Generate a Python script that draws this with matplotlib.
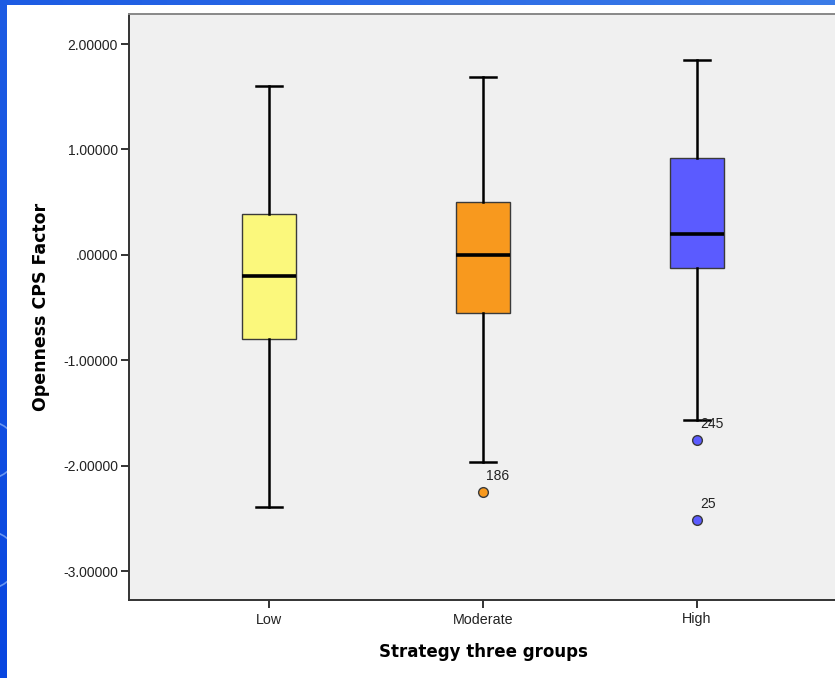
import numpy as np
import matplotlib
matplotlib.use("Agg")
import matplotlib.pyplot as plt
from matplotlib.patches import Rectangle

plt.rcParams['font.family'] = ['Liberation Sans', 'DejaVu Sans']

categories = ["Low", "Moderate", "High"]
whisker_low = [-2.391, -1.964, -1.565]
q1 = [-0.797, -0.550, -0.123]
medians = [-0.199, 0.000, 0.199]
q3 = [0.389, 0.503, 0.920]
whisker_high = [1.603, 1.689, 1.850]
outliers = [[], [-2.249], [-1.755, -2.514]]
outlier_ids = [[], ["186"], ["245", "25"]]
colors = ["#FBF87C", "#F8991E", "#5B5BFF"]
yticks = [2.0, 1.0, 0.0, -1.0, -2.0, -3.0]
ytick_labels = ["2.00000", "1.00000", ".00000", "-1.00000", "-2.00000", "-3.00000"]

W, H = 835, 678
fig = plt.figure(figsize=(W / 100, H / 100), dpi=100)
fig.patch.set_facecolor("white")

# blue frame (left and top strips)
bg = fig.add_axes([0, 0, 1, 1], zorder=-5)
bg.set_axis_off()
gx = np.linspace(0, 1, 200)
gy = np.linspace(0, 1, 200)
GX, GY = np.meshgrid(gx, gy)
t = np.clip(0.6 * GX + 0.4 * GY, 0, 1)
c0 = np.array([0x08, 0x46, 0xE0]) / 255
c1 = np.array([0x3C, 0x7C, 0xE8]) / 255
img = c0[None, None, :] * (1 - t[..., None]) + c1[None, None, :] * t[..., None]
bg.imshow(img, extent=[0, 1, 0, 1], origin="lower", aspect="auto")
bg.add_patch(Rectangle((7 / W, 0), 1, 1 - 5 / H, facecolor="white", edgecolor="none"))
strip = Rectangle((0, 0), 7 / W, 1, transform=bg.transAxes, facecolor="none", edgecolor="none")
bg.add_patch(strip)
for cy in [450, 560]:
    circ = plt.Circle((-20 / W, 1 - cy / H), 38 / W, transform=bg.transAxes,
                      fill=False, edgecolor="#7FA8F5", lw=1.2, alpha=0.8)
    bg.add_patch(circ)
    circ.set_clip_path(strip)
bg.set_xlim(0, 1)
bg.set_ylim(0, 1)

# main axes
left, right, top, bottom = 129, 837, 14, 600
ax = fig.add_axes([left / W, 1 - bottom / H, (right - left) / W, (bottom - top) / H])
ax.set_facecolor("#F0F0F0")

stats = []
for i, c in enumerate(categories):
    stats.append(dict(label=c, med=medians[i], q1=q1[i], q3=q3[i],
                      whislo=whisker_low[i], whishi=whisker_high[i], fliers=[]))

pos = np.arange(len(categories))
bp = ax.bxp(stats, positions=pos, widths=0.25, patch_artist=True, showfliers=False,
            boxprops=dict(edgecolor="#3A3A3A", linewidth=1.0),
            medianprops=dict(color="black", linewidth=2.6),
            whiskerprops=dict(color="black", linewidth=1.8),
            capprops=dict(color="black", linewidth=1.8), capwidths=0.125)
for patch, col in zip(bp["boxes"], colors):
    patch.set_facecolor(col)
    patch.set_zorder(2)

for i, (vals, ids) in enumerate(zip(outliers, outlier_ids)):
    for v, lab in zip(vals, ids):
        ax.plot(pos[i], v, "o", ms=7, mfc=colors[i], mec="#3A3A3A", mew=1.0, zorder=4)
        ax.annotate(lab, (pos[i], v), xytext=(2.5, 11.5), textcoords="offset points",
                    ha="left", va="center", fontsize=10, color="#222222")

ax.set_xlim(-0.654, 2.654)
ax.set_ylim(-3.275, 2.285)
ax.set_xticks(pos)
ax.set_xticklabels(categories, fontsize=10.3)
ax.set_yticks(yticks)
ax.set_yticklabels(ytick_labels, fontsize=10)
ax.tick_params(axis="both", direction="out", length=6, width=1.4, color="#333333",
               labelcolor="#222222")
ax.tick_params(axis="y", pad=2)
ax.tick_params(axis="x", pad=3)
for s in ["left", "bottom"]:
    ax.spines[s].set_color("#333333")
    ax.spines[s].set_linewidth(1.4)
ax.spines["top"].set_color("#888888")
ax.spines["top"].set_linewidth(1.4)
ax.spines["right"].set_visible(False)

ax.set_xlabel("Strategy three groups", fontsize=12, fontweight="bold", labelpad=12,
              family=["DejaVu Sans"])
ax.set_ylabel("Openness CPS Factor", fontsize=12.5, fontweight="bold", labelpad=9,
              family=["DejaVu Sans"])

fig.savefig("out.png", dpi=100)
